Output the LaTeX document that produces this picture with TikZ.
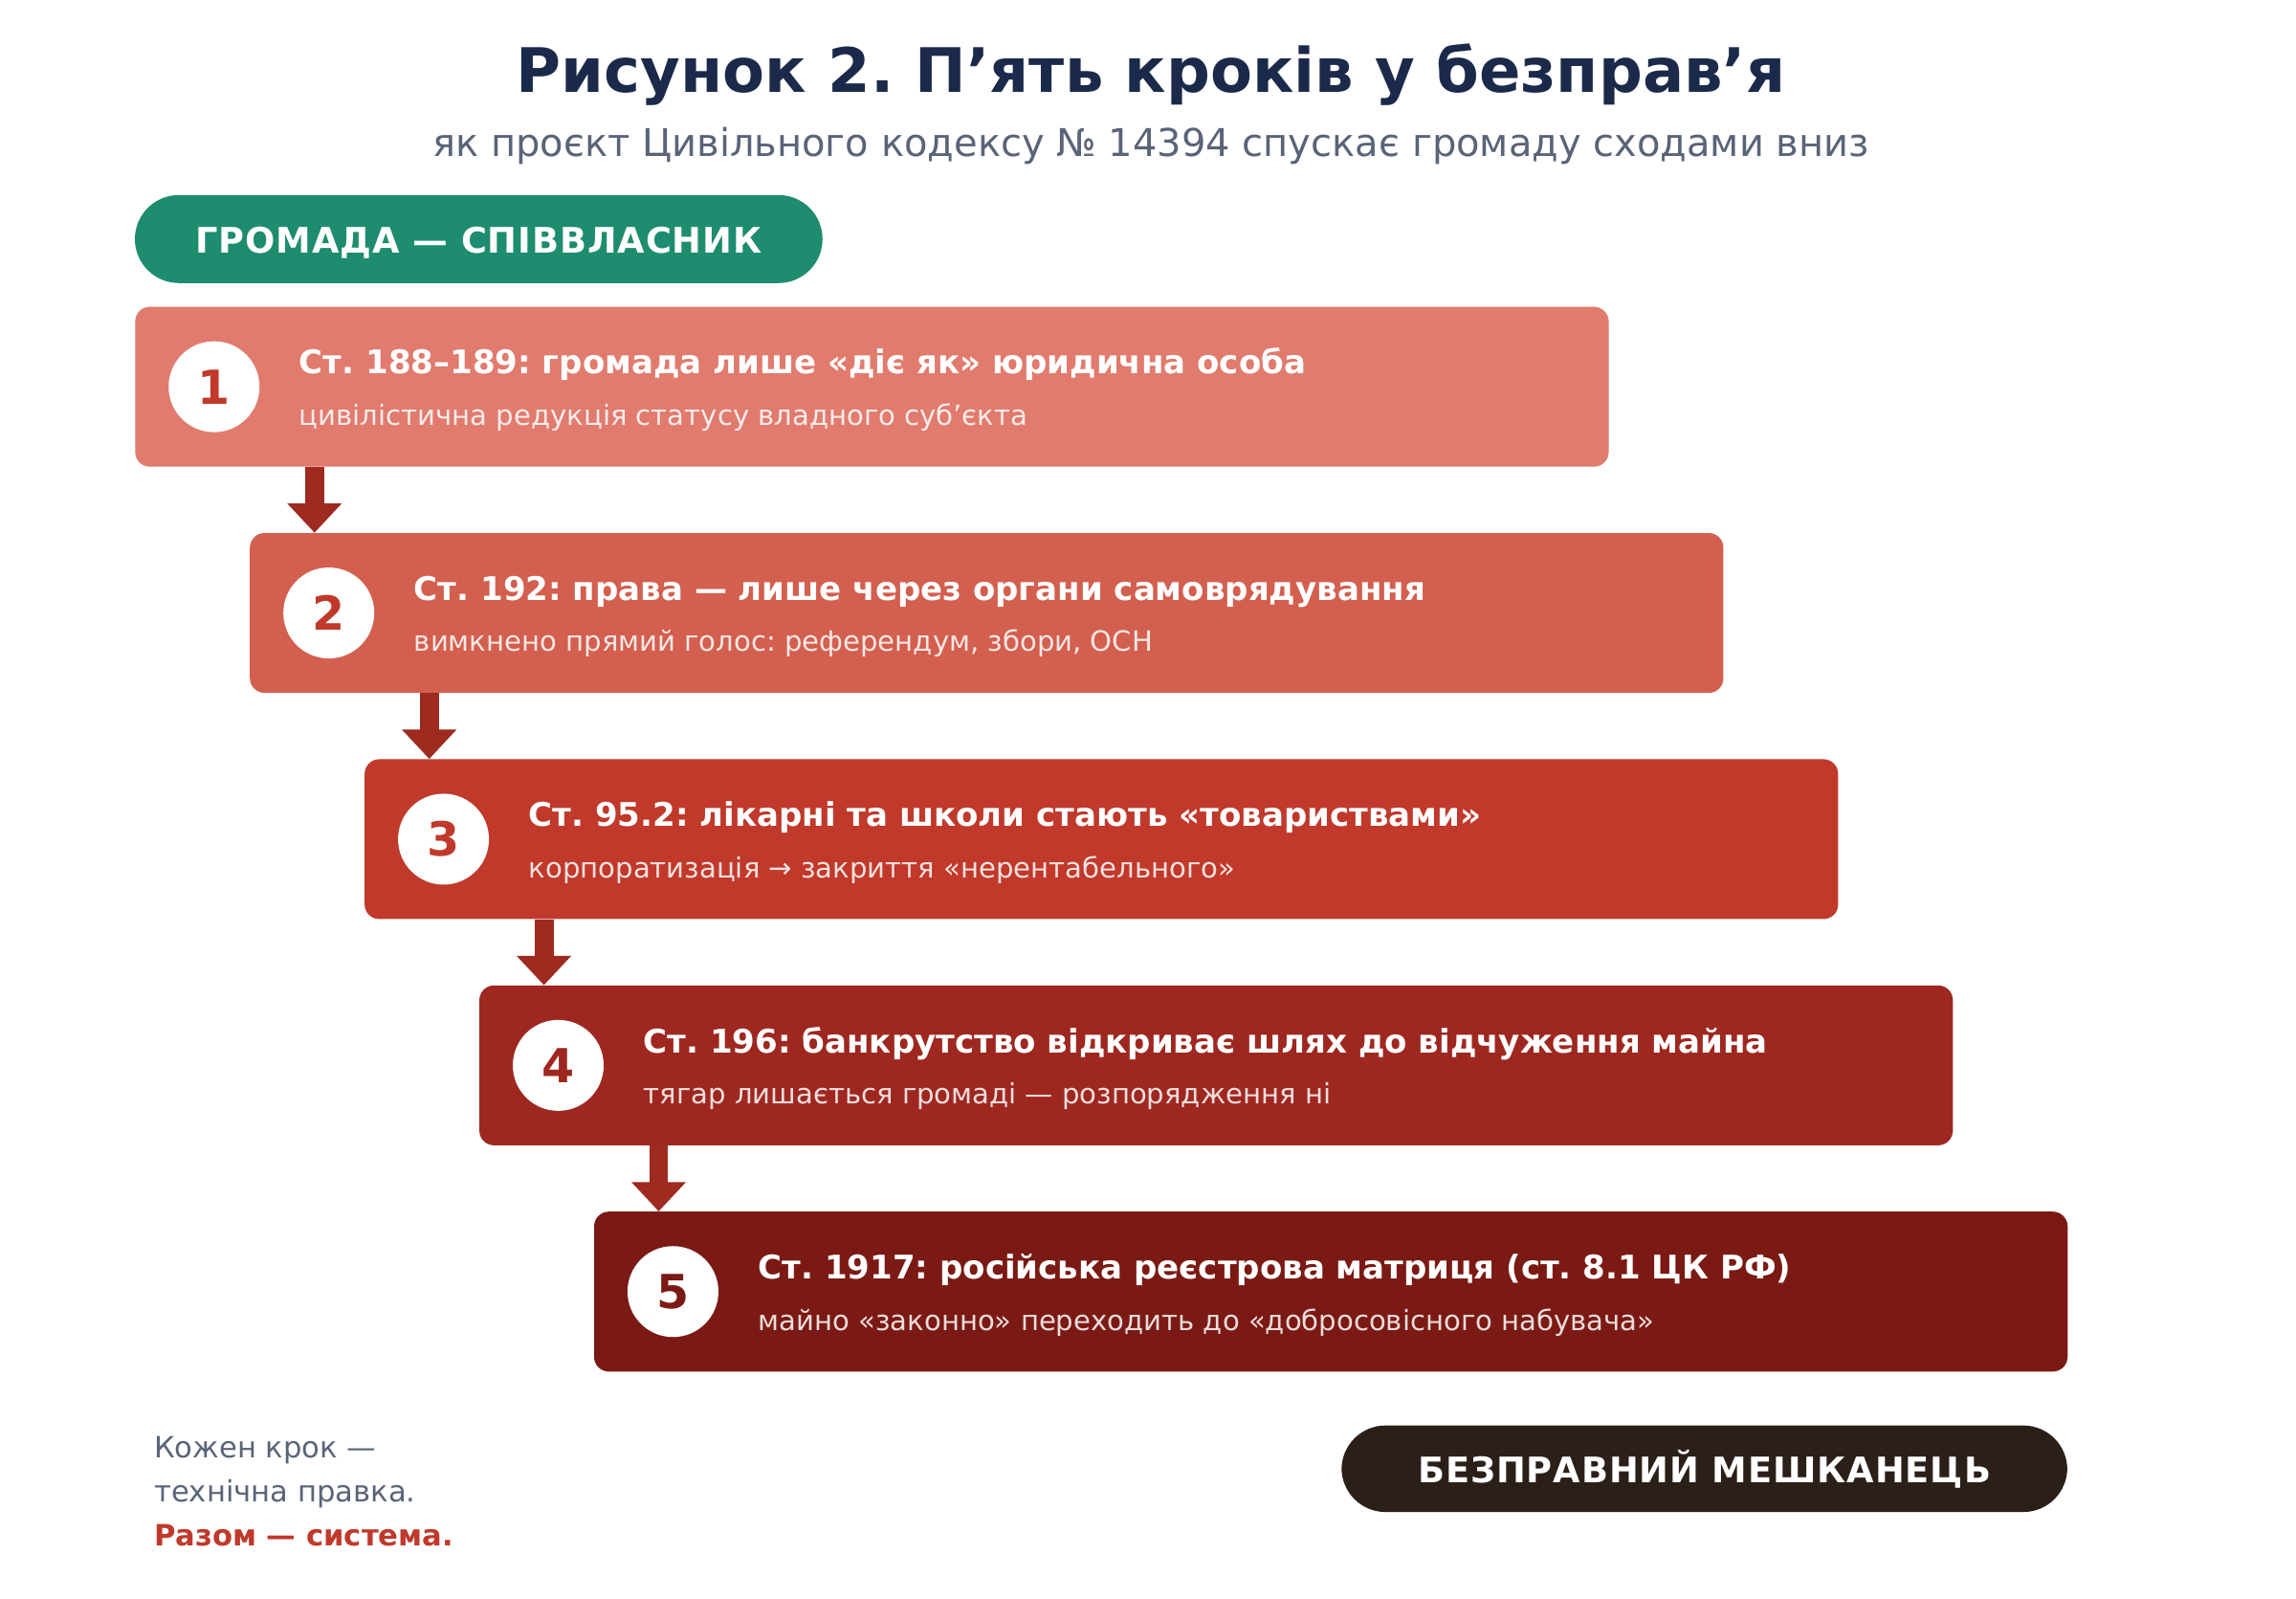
\documentclass[tikz,border=0pt]{standalone}
\usepackage{fontspec}
\setmainfont{DejaVu Sans}
\usepackage{tikz}
\usetikzlibrary{arrows.meta,positioning,calc}
\definecolor{TitleNavy}{HTML}{1B2A4A}
\definecolor{SubGrey}{HTML}{5A6478}
\definecolor{OwnerGreen}{HTML}{1E8C6E}
\definecolor{StepOne}{HTML}{E07B6E}
\definecolor{StepTwo}{HTML}{D35F4F}
\definecolor{StepThree}{HTML}{C0392B}
\definecolor{StepFour}{HTML}{9E2820}
\definecolor{StepFive}{HTML}{7B1A14}
\definecolor{ArrowRed}{HTML}{9E2A20}
\definecolor{ResidentDark}{HTML}{2B2019}
\frenchspacing
\tikzset{
  stepbox/.style={rectangle,rounded corners=10pt,minimum width=1005pt,minimum height=109pt,inner sep=0pt,anchor=north west},
  numdot/.style={circle,fill=white,minimum size=62pt,inner sep=0pt,font=\fontsize{32}{36}\selectfont\bfseries},
  headtext/.style={anchor=base west,inner sep=0pt,text=white,font=\fontsize{22.2}{26}\selectfont\bfseries},
  subtext/.style={anchor=base west,inner sep=0pt,text=white,text opacity=0.85,font=\fontsize{19}{23}\selectfont},
  pill/.style={rectangle,rounded corners=30pt,minimum height=60pt,inner sep=0pt,text height=19pt,text depth=0pt,text=white,
    font=\fontsize{24}{28}\selectfont\bfseries\addfontfeature{LetterSpace=2.5}},
  notetext/.style={anchor=base west,inner sep=0pt,font=\fontsize{20}{24}\selectfont},
  steparrow/.style={ArrowRed,line width=13pt,-{Triangle[width=36pt,length=20pt]}},
}

\begin{document}
\begin{tikzpicture}[x=1pt,y=-1pt]
  \fill[white] (0,0) rectangle (1566,1089.7);
  \useasboundingbox (0,0) rectangle (1566,1089.7);
  % Заголовок
  \node[anchor=base,text=TitleNavy,font=\fontsize{41.8}{50}\selectfont\bfseries] (title) at (785,63) {Рисунок 2. П’ять кроків у безправ’я};
  \node[anchor=base,text=SubGrey,font=\fontsize{26.1}{30}\selectfont] (subtitle) at (785,107) {як проєкт Цивільного кодексу № 14394 спускає громаду сходами вниз};
  \node[pill,fill=OwnerGreen,minimum width=469pt] (owner) at (326.5,163) {ГРОМАДА — СПІВВЛАСНИК};
  % Сходинки
  \foreach \i/\col/\numcol/\head/\sub in {
    1/StepOne/StepThree/{Ст. 188–189: громада лише «діє як» юридична особа}/{цивілістична редукція статусу владного суб’єкта},
    2/StepTwo/StepThree/{Ст. 192: права — лише через органи самоврядування}/{вимкнено прямий голос: референдум, збори, ОСН},
    3/StepThree/StepThree/{Ст. 95.2: лікарні та школи стають «товариствами»}/{корпоратизація → закриття «нерентабельного»},
    4/StepFour/StepFour/{Ст. 196: банкрутство відкриває шлях до відчуження майна}/{тягар лишається громаді — розпорядження ні},
    5/StepFive/StepFive/{Ст. 1917: російська реєстрова матриця (ст. 8.1 ЦК РФ)}/{майно «законно» переходить до «добросовісного набувача»}} {
    \node[stepbox,fill=\col] (s\i) at ({92+78.25*(\i-1)},{209+154.25*(\i-1)}) {};
    \node[numdot,text=\numcol] (n\i) at ($(s\i.west)+(54,0)$) {\i};
    \node[headtext] (h\i) at ($(s\i.north west)+(112,46)$) {\head};
    \node[subtext] (d\i) at ($(s\i.north west)+(112,81)$) {\sub};
  }
  % Стрілки між сходинками
  \foreach \i/\j in {1/2,2/3,3/4,4/5}{
    \draw[steparrow] ($(s\i.south west)+(122.5,0)$) coordinate (a\i) -- (a\i |- s\j.north);
  }
  % Підсумок
  \node[pill,fill=ResidentDark,minimum width=495pt,minimum height=59pt] (resident) at (1162.5,1001.5) {БЕЗПРАВНИЙ МЕШКАНЕЦЬ};
  \node[notetext,text=SubGrey] (note1) at (105,994) {Кожен крок —};
  \node[notetext,text=SubGrey] (note2) at (105,1024) {технічна правка.};
  \node[notetext,text=StepThree,font=\fontsize{20}{24}\selectfont\bfseries] (note3) at (105,1054) {Разом — система.};
\end{tikzpicture}
\end{document}
